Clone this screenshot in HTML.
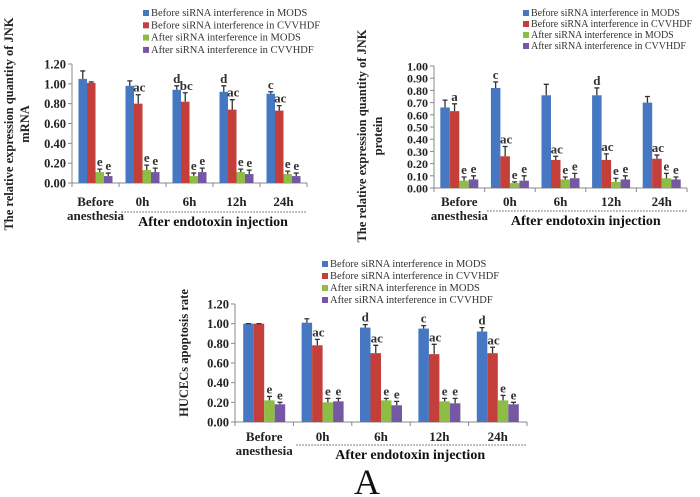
<!DOCTYPE html>
<html><head><meta charset="utf-8"><style>
body{margin:0;background:#fff;}
svg{display:block;font-family:"Liberation Serif",serif;}
</style></head><body>
<svg id="fig" width="700" height="497" viewBox="0 0 700 497"></svg>
<script>
const categories=["Before","0h","6h","12h","24h"];
const seriesNames=["Before siRNA interference in MODS","Before siRNA interference in CVVHDF","After siRNA interference in MODS","After siRNA interference in CVVHDF"];
// chart 1: JNK mRNA
const mrnaMODSBefore=[1.05,0.98,0.94,0.92,0.90];
const mrnaCVVBefore=[1.01,0.80,0.82,0.74,0.73];
const mrnaMODSAfter=[0.11,0.13,0.07,0.11,0.09];
const mrnaCVVAfter=[0.07,0.11,0.11,0.09,0.07];
const mrnaErr=[[0.08,0.05,0.04,0.06,0.02],[0.01,0.09,0.09,0.10,0.05],[0.03,0.05,0.03,0.03,0.03],[0.03,0.04,0.04,0.04,0.03]];
const mrnaSig=[["","","d","d","c"],["","ac","bc","ac","ac"],["e","e","e","e","e"],["e","e","e","e","e"]];
const mrnaTicks=["0.00","0.20","0.40","0.60","0.80","1.00","1.20"];
// chart 2: JNK protein
const protMODSBefore=[0.66,0.82,0.76,0.76,0.70];
const protCVVBefore=[0.63,0.26,0.23,0.23,0.24];
const protMODSAfter=[0.06,0.04,0.07,0.05,0.08];
const protCVVAfter=[0.07,0.06,0.08,0.07,0.07];
const protErr=[[0.06,0.05,0.09,0.06,0.05],[0.06,0.08,0.03,0.05,0.03],[0.03,0.01,0.02,0.03,0.04],[0.03,0.04,0.04,0.03,0.02]];
const protSig=[["","c","","d",""],["a","ac","ac","ac","ac"],["e","e","e","e","e"],["e","e","e","e","e"]];
const protTicks=["0.00","0.10","0.20","0.30","0.40","0.50","0.60","0.70","0.80","0.90","1.00"];
// chart 3: apoptosis
const apoMODSBefore=[1.00,1.01,0.96,0.95,0.92];
const apoCVVBefore=[1.00,0.78,0.70,0.69,0.70];
const apoMODSAfter=[0.22,0.20,0.22,0.21,0.22];
const apoCVVAfter=[0.18,0.21,0.17,0.19,0.18];
const apoErr=[[0,0.04,0.03,0.03,0.04],[0,0.06,0.08,0.10,0.06],[0.04,0.04,0.02,0.03,0.05],[0.02,0.03,0.04,0.05,0.02]];
const apoSig=[["","","d","c","d"],["","ac","ac","ac","ac"],["e","e","e","e","e"],["e","e","e","e","e"]];
const apoTicks=["0.00","0.20","0.40","0.60","0.80","1.00","1.20"];

const colors=["#4677c2","#c43e3a","#8dbd45","#7557a3"];
const svg=document.getElementById('fig');
const NS="http://www.w3.org/2000/svg";
function el(tag,attrs,parent,text){const e=document.createElementNS(NS,tag);for(const k in attrs)e.setAttribute(k,attrs[k]);if(text!==undefined)e.textContent=text;(parent||svg).appendChild(e);return e;}

function chart(o){
  const g=el('g',{});
  
  
  const ymax=parseFloat(o.ticks[o.ticks.length-1]);
  const y=v=>o.y0-(v/ymax)*(o.y0-o.y1);
  const gw=o.w/categories.length;
  const x=(ci,si)=>o.x0+ci*gw+(gw-4*o.bw)/2+si*o.bw;
  o.ticks.forEach(t=>{const v=parseFloat(t);const ty=y(v);
    const tl=el('line',{x1:o.x0-4,x2:o.x0,y1:ty,y2:ty,stroke:'#888','stroke-width':1},g);
    
    const tt=el('text',{x:o.x0-6,y:ty+4.5,'text-anchor':'end','font-size':o.tfs,'font-weight':'bold',fill:'#222'},g,t);
    
  });
  const ax=el('line',{x1:o.x0,x2:o.x0,y1:o.y0,y2:o.y1,stroke:'#888'},g);
  
  const xa=el('line',{x1:o.x0,x2:o.x0+o.w,y1:o.y0,y2:o.y0,stroke:'#888'},g);
  
  for(let i=0;i<=categories.length;i++){const gx=o.x0+i*gw;el('line',{x1:gx,x2:gx,y1:o.y0,y2:o.y0+4,stroke:'#888'},g);}
  o.series.forEach((arr,si)=>{arr.forEach((v,ci)=>{
    const bx=x(ci,si),by=y(v);
    const b=el('rect',{x:bx,y:by,width:o.bw,height:o.y0-by,fill:colors[si]},g);
    
    
    const e=o.err[si][ci],cx=bx+o.bw/2,ey=y(v+e);
    const eb=el('path',{d:`M${cx} ${by}V${ey}M${cx-2.5} ${ey}H${cx+2.5}`,stroke:'#333','stroke-width':1.3,fill:'none'},g);
    
    const s=o.sig[si][ci];
    if(s){const st=el('text',{x:cx+(s.length>1?1:0),y:ey-3,'text-anchor':'middle','font-size':13,'font-weight':'bold',fill:'#333'},g,s);
      }
  });});
  categories.forEach((c,ci)=>{const cx=o.x0+ci*gw+gw/2;
    const t=el('text',{x:cx,y:o.ly,'text-anchor':'middle','font-size':13,'font-weight':'bold',fill:'#222'},g,c);
    
    if(ci===0){const t2=el('text',{x:cx,y:o.ly+14,'text-anchor':'middle','font-size':13,'font-weight':'bold',fill:'#222'},g,'anesthesia');
      }
  });
  const dl=el('line',{x1:o.x0+gw*1.05,x2:o.x0+o.w,y1:o.dy,y2:o.dy,stroke:'#555','stroke-dasharray':'1.5 1.5'},g);
  
  const xt=el('text',{x:o.x0+gw+(o.w-gw)/2,y:o.dy+14,'text-anchor':'middle','font-size':14,'font-weight':'bold',fill:'#111'},g,'After endotoxin injection');
  
  o.ytitle.forEach((line,i)=>{const tx=o.tx+i*16;
    const t=el('text',{x:tx,y:o.ty,'text-anchor':'middle','font-size':o.yfs,'font-weight':'bold',fill:'#222',transform:`rotate(-90 ${tx} ${o.ty})`},g,line);
    });
  seriesNames.forEach((n,i)=>{const lyy=o.legy+i*o.legdy;
    const lg=el('g',{},g);
    
    el('rect',{x:o.legx,y:lyy-6,width:6,height:6,fill:colors[i]},lg);
    el('text',{x:o.legx+8,y:lyy,'font-size':o.lfs,fill:'#333'},lg,n);});
}
chart({name:'jnk-mrna-chart',x0:72,w:235,y0:183,y1:64,bw:8.5,ticks:mrnaTicks,tfs:12.5,
  series:[mrnaMODSBefore,mrnaCVVBefore,mrnaMODSAfter,mrnaCVVAfter],err:mrnaErr,sig:mrnaSig,
  ly:206,dy:212,tx:13,ty:124,yfs:12.5,ytitle:["The relative expression quantity of JNK","mRNA"],legx:143,legy:16,legdy:12.3,lfs:10.5});
chart({name:'jnk-protein-chart',x0:434,w:253,y0:188,y1:66,bw:9.5,ticks:protTicks,tfs:12,
  series:[protMODSBefore,protCVVBefore,protMODSAfter,protCVVAfter],err:protErr,sig:protSig,
  ly:206,dy:211,tx:366,ty:136,yfs:12.5,ytitle:["The relative expression quantity of JNK","protein"],legx:523,legy:16,legdy:11,lfs:10});
chart({name:'apoptosis-chart',x0:235,w:292,y0:422,y1:304,bw:10.5,ticks:apoTicks,tfs:12.5,
  series:[apoMODSBefore,apoCVVBefore,apoMODSAfter,apoCVVAfter],err:apoErr,sig:apoSig,
  ly:441,dy:445,tx:188,ty:353,yfs:12.5,ytitle:["HUCECs apoptosis rate"],legx:322,legy:267,legdy:12,lfs:10.5});
const A=el('text',{x:367,y:494,'text-anchor':'middle','font-size':36,fill:'#111'},svg,'A');


</script>
</body></html>
